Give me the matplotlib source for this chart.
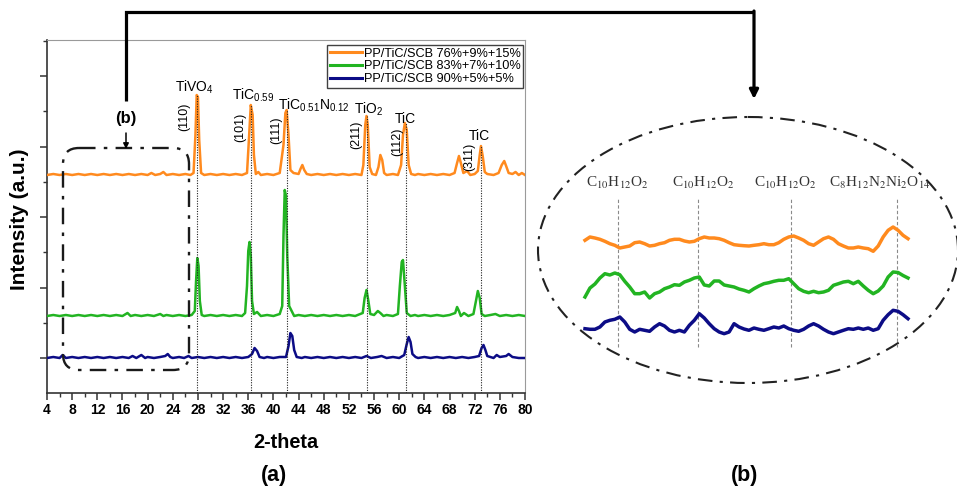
import numpy as np
import matplotlib
matplotlib.use('Agg')
import matplotlib.pyplot as plt
from matplotlib.patches import FancyBboxPatch, Ellipse
from matplotlib.ticker import MultipleLocator

plt.rcParams['font.family'] = ['Liberation Sans', 'DejaVu Sans']
plt.rcParams['mathtext.fontset'] = 'custom'
plt.rcParams['mathtext.rm'] = 'Liberation Sans'
plt.rcParams['mathtext.it'] = 'Liberation Sans:italic'
plt.rcParams['mathtext.bf'] = 'Liberation Sans:bold'

# ---------------- data (panel a) ----------------
series_labels = ['PP/TiC/SCB 76%+9%+15%', 'PP/TiC/SCB 83%+7%+10%', 'PP/TiC/SCB 90%+5%+5%']
series_colors = ['#ff8a1e', '#22b422', '#0c0c86']
series_offsets = [183, 42, 0]

orange_pts = [(4,0),(5,1),(6,0),(7,1),(8,0),(9,1),(10,0),(11,1),(12,0),(13,1),(14,0),(15,1),(16,0),(17,1),
    (18,0),(19,1),(20,0),(20.6,2),(21.2,0),(22,1),(22.5,3),(23,0),(24,1),(25,0),(26,1),(26.8,0),(27.3,2),
    (27.6,40),(27.8,80),(28.0,78),(28.2,35),(28.5,2),(29,0),(30,1),(31,0),(32,1),(33,0),(34,1),(35,0),
    (35.8,2),(36.1,35),(36.4,70),(36.7,60),(36.9,20),(37.2,1),(37.6,3),(38,0),(39,1),(40,0),(41,2),
    (41.6,30),(41.9,62),(42.1,65),(42.4,40),(42.7,5),(43.2,2),(44,1),(44.3,6),(44.6,10),(44.9,5),(45.3,1),
    (46,0),(47,1),(48,0),(49,1),(50,0),(51,1),(52,0),(53,1),(54,0),(54.3,10),(54.6,50),(54.8,59),(55.0,50),
    (55.3,8),(55.7,1),(56.3,0),(56.7,8),(57.0,20),(57.3,15),(57.6,2),(58,0),(59,1),(59.8,0),(60.3,10),
    (60.6,40),(60.9,52),(61.2,45),(61.5,10),(61.9,1),(62.5,0),(63,1),(64,0),(65,1),(66,0),(67,1),(68,0),
    (68.8,2),(69.2,12),(69.5,19),(69.8,12),(70.2,2),(70.8,4),(71.3,0),(72,1),(72.5,4),(72.8,20),(73.0,29),
    (73.3,18),(73.6,3),(74,1),(75,0),(75.8,2),(76.3,10),(76.7,14),(77.0,9),(77.4,2),(78,1),(78.5,3),
    (79,0),(79.5,2),(80,0)]

green_pts = [(4,0),(5,1),(6,0),(7,1),(8,0),(9,1),(10,0),(11,1),(12,0),(13,1),(14,0),(15,1),(16,0),(16.8,3),
    (17.3,0),(18,1),(19,0),(20,1),(21,0),(22,2),(22.5,0),(23,1),(24,0),(25,1),(26,0),(27,1),(27.5,5),
    (27.7,35),(27.9,58),(28.1,50),(28.3,15),(28.6,1),(29,0),(30,1),(31,0),(32,1),(33,0),(34,1),(35,0),
    (35.5,3),(35.8,30),(36.0,65),(36.2,74),(36.4,60),(36.6,15),(36.9,2),(37.4,4),(38,0),(39,1),(40,0),
    (41,2),(41.4,10),(41.6,80),(41.8,126),(42.0,120),(42.2,60),(42.5,10),(42.9,5),(43.3,0),(44,1),(45,0),
    (46,1),(47,0),(48,1),(49,0),(50,1),(51,0),(52,1),(53,0),(54.2,3),(54.5,18),(54.8,26),(55.1,15),
    (55.4,2),(56,1),(56.6,5),(57.0,3),(57.5,0),(58,1),(59,0),(59.8,2),(60.1,30),(60.4,54),(60.6,56),
    (60.9,30),(61.2,3),(61.8,0),(62.5,1),(63,0),(64,1),(65,0),(66,1),(67,0),(68,1),(68.9,3),(69.2,9),
    (69.5,5),(69.8,0),(70.3,3),(71,0),(71.8,2),(72.2,15),(72.5,25),(72.8,18),(73.1,2),(73.6,0),(74.5,1),
    (75.3,2),(76,0),(77,1),(78,0),(79,1),(80,0)]

blue_pts = [(4,0),(5,1),(6,0),(6.5,3),(7,0),(8,1),(9,0),(10,1),(11,0),(12,1),(13,0),(14,1),(15,0),(16,1),
    (17,0),(17.6,2),(18.2,0),(19,3),(19.6,0),(20,1),(21,0),(22,1),(22.8,2),(23.2,4),(23.6,1),(24,0),(25,1),
    (25.8,0),(26.5,2),(27,0),(28,1),(29,0),(30,1),(31,0),(32,1),(33,0),(34,1),(35,0),(36,1),(36.6,4),
    (37.0,10),(37.4,7),(37.8,1),(38.5,0),(39,1),(40,0),(41,1),(42,1),(42.4,12),(42.7,25),(43.0,22),
    (43.3,8),(43.7,1),(44.5,0),(45,1),(46,0),(47,1),(48,0),(49,1),(50,0),(51,1),(52,0),(53,1),(54,0),
    (54.8,2),(55.5,0),(56.5,1),(57.2,2),(58,0),(59,1),(60,0),(60.8,3),(61.2,14),(61.5,21),(61.8,16),
    (62.1,4),(62.6,1),(63,0),(64,1),(65,0),(66,1),(67,0),(68,1),(69,0),(70,1),(71,0),(72,1),(72.7,2),
    (73.1,10),(73.4,13),(73.7,8),(74.0,2),(74.5,1),(75,0),(75.5,3),(76,1),(77,2),(77.4,4),(78,1),(79,0),(80,0)]

peak_2theta = [27.85, 36.45, 42.1, 54.8, 61.0, 73.0]
peak_top = [80, 70, 65, 59, 52, 29]
phase_labels = ['TiVO$_4$', 'TiC$_{0.59}$', 'TiC$_{0.51}$N$_{0.12}$', 'TiO$_2$', 'TiC', 'TiC']
phase_x = [27.5, 36.7, 46.4, 55.2, 61.0, 72.8]
phase_y = [266, 258, 248, 244, 235, 218]
miller_labels = ['(110)', '(101)', '(111)', '(211)', '(112)', '(311)']
miller_x = [25.9, 34.8, 40.5, 53.2, 59.7, 71.1]
miller_y = [241, 231, 228, 223, 216, 201]
x_ticks = list(range(4, 81, 4))

# ---------------- data (panel b, zoom of 6-26 deg) ----------------
inset_orange = [109.7,113.0,112.0,110.7,108.7,106.3,104.7,102.0,103.0,104.0,
    107.3,108.0,106.3,104.0,104.7,106.3,107.3,109.7,110.7,110.7,
    109.0,108.0,108.7,111.3,113.0,112.0,112.0,111.3,109.7,107.3,
    105.3,104.7,104.3,104.0,104.7,105.3,106.3,105.3,105.3,107.3,
    110.7,113.0,114.0,112.0,109.7,106.3,104.7,108.0,111.3,113.0,
    110.7,106.3,104.0,102.0,102.0,103.0,102.0,101.3,98.7,104.0,
    113.0,119.7,123.0,119.7,114.7,111.3]
inset_green = [53,62,66,72,76.3,75,77,75.3,68.7,63,
    56.3,56.3,58,52,56.3,58,61.3,63,65.3,64.7,
    68,69.7,72,73,65,64,69,69,65,64,
    63,61,59.7,58,61.3,64,66.3,67.3,68.7,69.7,
    69.7,71.3,66.3,61.3,58.7,57.3,58.7,57.3,58,59.7,
    64.7,66.3,68,68.7,66.3,68.7,64,59.7,56.3,59,
    64,73,78,77.5,74.5,72]
inset_blue = [21.3,20.7,20.7,23,28,29.7,30.7,33,28,20.7,
    18,20.7,19.7,18.7,23,26.3,24,19.7,18,19.7,
    18,24.7,29.7,36.3,32,26.3,21.3,18,16.3,18,
    26.3,23,21,19.7,22,20.7,19.7,21.3,23,22,
    24,21.3,19.7,18.7,20.7,24,26.3,24,20.7,18,
    16.3,18,19.7,21.3,20.7,22,20.7,22,19.7,21.3,
    29.7,35.3,39.7,38.7,35.3,31.3]
inset_2theta = np.linspace(6.0, 26.0, len(inset_orange))
compound_labels = ['C$_{10}$H$_{12}$O$_2$', 'C$_{10}$H$_{12}$O$_2$', 'C$_{10}$H$_{12}$O$_2$',
                   'C$_8$H$_{12}$N$_2$Ni$_2$O$_{14}$']
compound_line_x = [8.04, 13.0, 18.75, 25.32]
compound_label_x = [7.98, 13.3, 18.38, 24.27]

# ---------------- figure ----------------
W, H = 957, 488
fig = plt.figure(figsize=(W / 100, H / 100), dpi=100)
AX_L, AX_R, AX_T, AX_B = 47, 525, 40, 393
ax = fig.add_axes([AX_L / W, 1 - AX_B / H, (AX_R - AX_L) / W, (AX_B - AX_T) / H])

for pts, off, col, lab in zip([orange_pts, green_pts, blue_pts], series_offsets, series_colors, series_labels):
    xs = [p[0] for p in pts]
    ys = [p[1] + off for p in pts]
    ax.plot(xs, ys, color=col, lw=1.8, label=lab, zorder=3, solid_joinstyle='round')

ax.vlines(peak_2theta, -35, [t + series_offsets[0] for t in peak_top], colors='#222222',
          linestyles=(0, (1, 1.3)), lw=0.8, zorder=4)

for lab, x, y in zip(phase_labels, phase_x, phase_y):
    ax.text(x, y, lab, ha='center', va='baseline', fontsize=10, zorder=5)
for lab, x, y in zip(miller_labels, miller_x, miller_y):
    ax.text(x, y, lab, ha='center', va='center', rotation=90, fontsize=9, zorder=5)

ax.set_xlim(4, 80)
ax.set_ylim(-35, 318)
ax.set_xticks(x_ticks)
ax.xaxis.set_minor_locator(MultipleLocator(2))
ax.yaxis.set_major_locator(MultipleLocator(70.5))
ax.yaxis.set_minor_locator(MultipleLocator(35.25))
ax.tick_params(axis='y', labelleft=False)
ax.tick_params(which='major', direction='out', length=5, width=1.1, color='#333333')
ax.tick_params(which='minor', direction='out', length=3, width=1.0, color='#333333')
ax.tick_params(axis='x', labelsize=10, pad=2)
for t in ax.get_xticklabels():
    t.set_fontweight('bold')
for s in ['left', 'bottom']:
    ax.spines[s].set_color('#333333')
    ax.spines[s].set_linewidth(1.2)
for s in ['top', 'right']:
    ax.spines[s].set_color('#9a9a9a')
    ax.spines[s].set_linewidth(0.8)

ax.set_xlabel('2-theta', fontsize=14.3, fontweight='bold')
ax.xaxis.set_label_coords(0.5, -0.113)
ax.set_ylabel('Intensity (a.u.)', fontsize=15, fontweight='bold')
ax.yaxis.set_label_coords(-0.0377, 0.493)

leg = ax.legend(loc='upper right', bbox_to_anchor=(0.996, 0.985), borderaxespad=0, fontsize=9.2,
                frameon=True, fancybox=False, edgecolor='#111111', handlelength=2.5,
                handletextpad=0.15, labelspacing=0.05, borderpad=0.2)
leg.get_frame().set_linewidth(1.0)
for line in leg.get_lines():
    line.set_linewidth(2.2)

fig.text(274 / W, 1 - 476 / H, '(a)', ha='center', va='center', fontsize=15.5, fontweight='bold')
fig.text(745 / W, 1 - 476 / H, '(b)', ha='center', va='center', fontsize=15.5, fontweight='bold')

# ---------------- overlay (annotations in pixel space) ----------------
ov = fig.add_axes([0, 0, 1, 1], zorder=6)
ov.set_xlim(0, W)
ov.set_ylim(H, 0)
ov.axis('off')
ov.patch.set_alpha(0)

box = FancyBboxPatch((63, 148), 126, 222, boxstyle='round,pad=0,rounding_size=16', fill=False,
                     ls=(0, (7, 3.5, 1.5, 3.5)), lw=1.7, ec='#1a1a1a')
ov.add_patch(box)
ov.plot([126, 126, 754], [101, 12, 12], color='k', lw=2.3, solid_joinstyle='miter', solid_capstyle='butt')
ov.annotate('', xy=(754, 99), xytext=(754, 11),
            arrowprops=dict(arrowstyle='-|>', color='k', lw=2.3, mutation_scale=13, shrinkA=0, shrinkB=0))
ov.text(126, 118, '(b)', ha='center', va='center', fontsize=12, fontweight='bold')
ov.annotate('', xy=(126, 149), xytext=(126, 133),
            arrowprops=dict(arrowstyle='-|>', color='k', lw=1.1, mutation_scale=8, shrinkA=0, shrinkB=0))
ell = Ellipse((748, 250), 420, 266, fill=False, ls=(0, (7, 3.5, 1.5, 3.5)), lw=1.5, ec='#222222')
ov.add_patch(ell)

# ---------------- inset panel (b) ----------------
ins = fig.add_axes([585 / W, 1 - 350 / H, 323 / W, 190 / H], zorder=7)
ins.set_xlim(6, 26)
ins.set_ylim(0, 190)
ins.axis('off')
ins.patch.set_alpha(0)
ins.vlines(compound_line_x, 3, 153, colors='#8a8a8a', linestyles=(0, (3, 2)), lw=0.8, zorder=1)
for vals, col in zip([inset_orange, inset_green, inset_blue], series_colors):
    ins.plot(inset_2theta, vals, color=col, lw=2.5, zorder=3, clip_on=False)
for lab, x in zip(compound_labels, compound_label_x):
    ins.text(x, 167, lab, ha='center', va='center', fontsize=11, color='#333333',
             family=['Liberation Serif', 'DejaVu Serif'], math_fontfamily='stix')

fig.savefig('out.png', dpi=100)
